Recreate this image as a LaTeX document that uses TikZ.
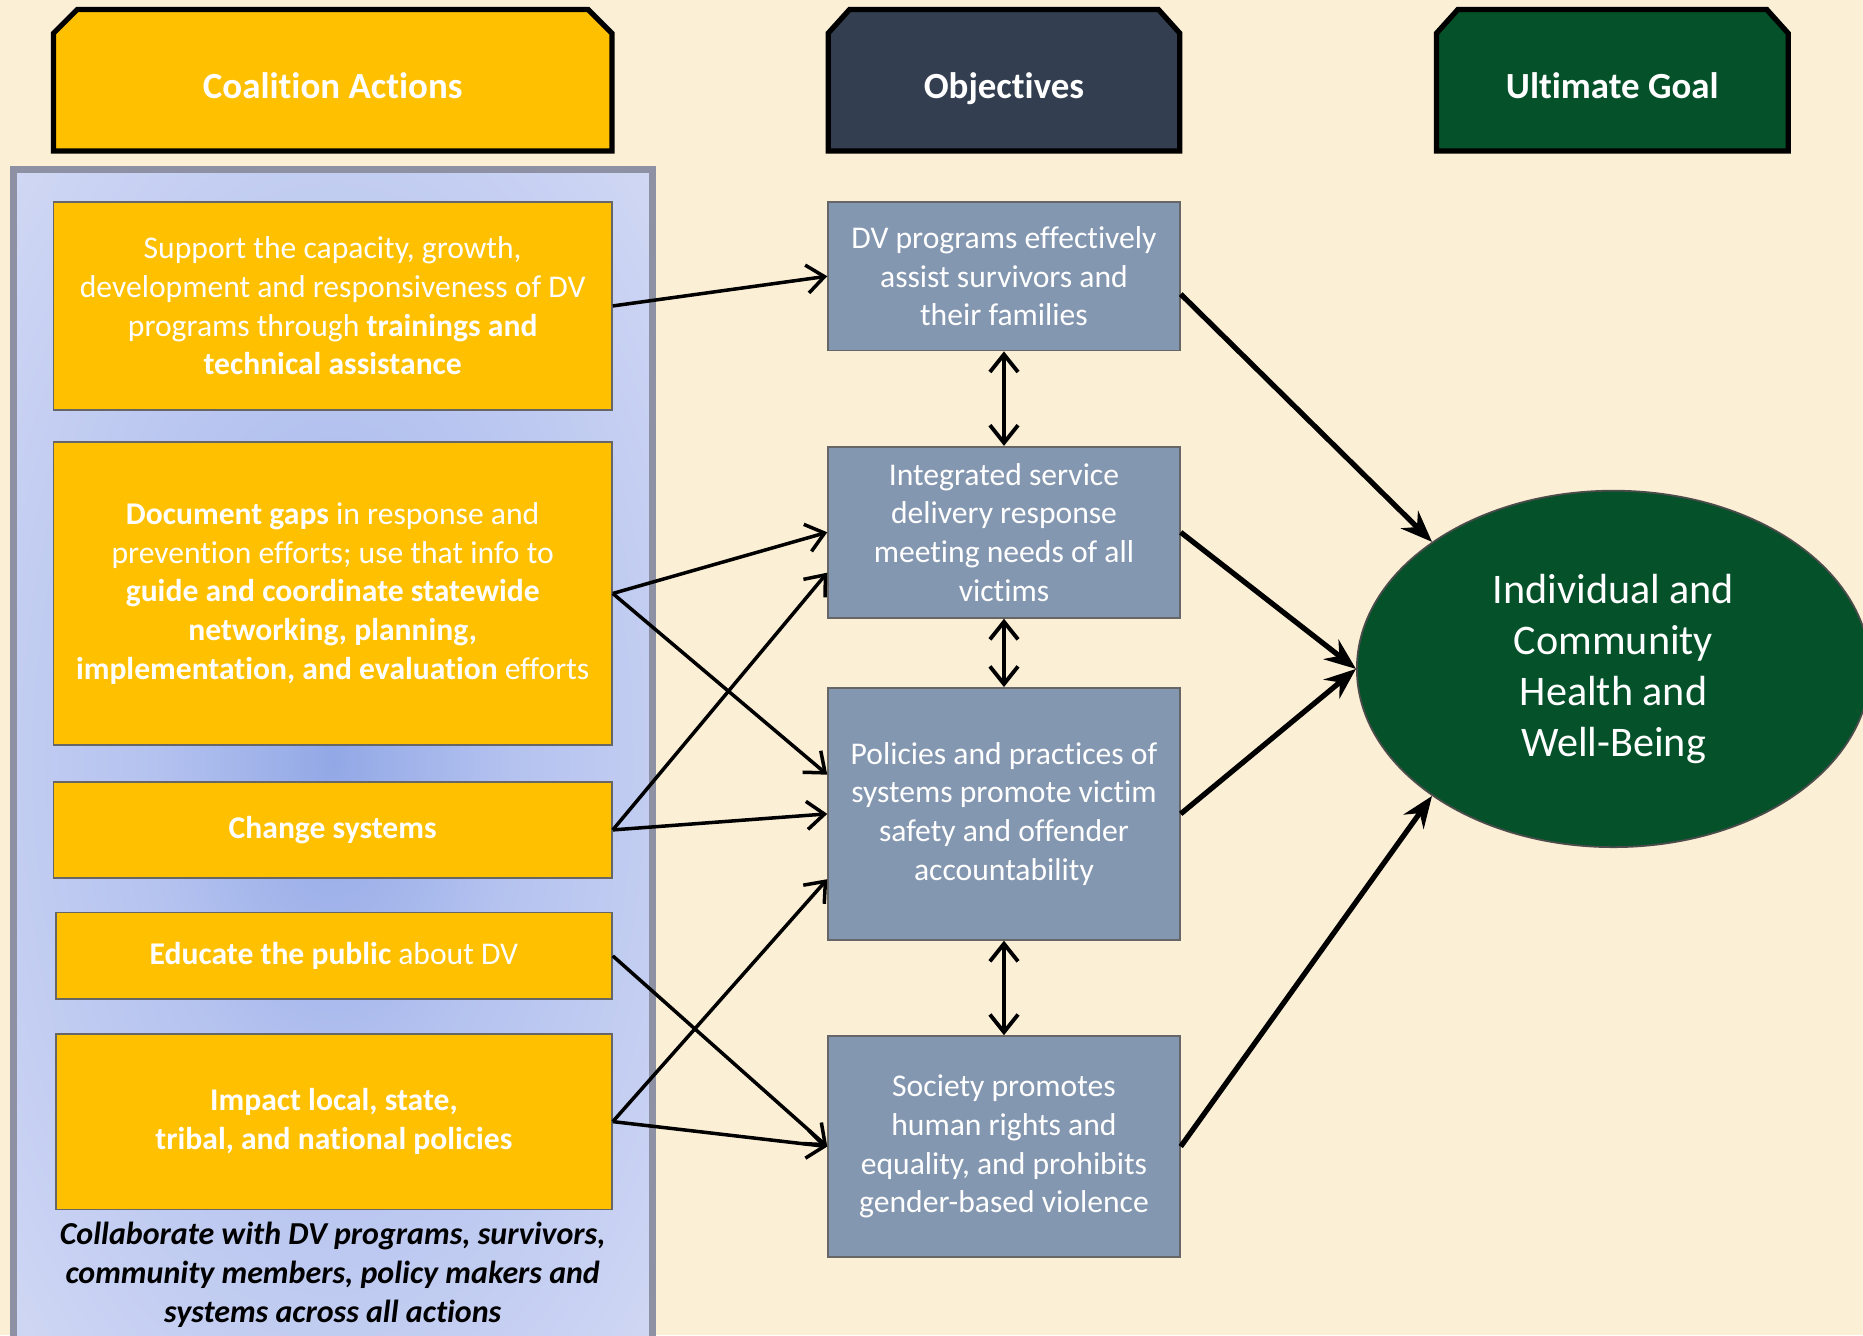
\documentclass[tikz,border=0pt]{standalone}
\usepackage{fontspec}
\setmainfont{Carlito}[Ligatures=NoCommon]
\usetikzlibrary{arrows.meta,calc,shapes.geometric}
\definecolor{bgcream}{HTML}{FBF0D6}
\definecolor{actyellow}{HTML}{FFC000}
\definecolor{objslate}{HTML}{333F50}
\definecolor{goalgreen}{HTML}{04512A}
\definecolor{objblue}{HTML}{8497B0}
\definecolor{panelout}{HTML}{D6DCF5}
\definecolor{panelmid}{HTML}{B4C2EF}
\definecolor{panelin}{HTML}{92A8E6}
\definecolor{panelrim}{HTML}{8E91A3}
\pgfdeclareradialshading{panelglow}{\pgfpoint{0bp}{0bp}}{%
  color(0bp)=(panelin); color(14bp)=(panelmid); color(40bp)=(panelout); color(70bp)=(panelout)}
\newcommand{\px}{0.01188cm}
\tikzset{
  headframe/.style={draw=black, line width=1.5pt, line join=miter},
  headtext/.style={anchor=base, text=white, font=\fontsize{10.5}{13}\selectfont\bfseries},
  actbox/.style={draw=black!60, line width=0.5pt, fill=actyellow, text=white,
    align=center, inner sep=0pt, font=\fontsize{9}{11}\selectfont},
  objbox/.style={draw=black!60, line width=0.5pt, fill=objblue, text=white,
    align=center, inner sep=0pt, font=\fontsize{9}{11}\selectfont},
  goalnode/.style={ellipse, draw=black!70, line width=0.5pt, fill=goalgreen,
    text=white, align=center, inner sep=0pt, font=\fontsize{12}{14.5}\selectfont},
  foottext/.style={align=center, font=\fontsize{9.1}{11}\selectfont\bfseries\itshape},
  actarrow/.style={line width=1pt, -{Straight Barb[length=5pt,width=8pt]}},
  linkarrow/.style={line width=1.1pt, {Straight Barb[length=5pt,width=8pt]}-{Straight Barb[length=5pt,width=8pt]}},
  goalarrow/.style={line width=1.5pt, -{Stealth[length=9pt,width=7pt,inset=3pt]}}
}
\begin{document}
\begin{tikzpicture}[x=0.01188cm, y=-0.01188cm]
  \useasboundingbox (0,0) rectangle (1568,1124);
  \fill[bgcream] (0,0) rectangle (1568,1124);

  % panel behind the actions
  \shade[shading=panelglow] (11,143) rectangle (549,1140);
  \draw[panelrim, line width=2pt] (11,1140) -- (11,143) -- (549,143) -- (549,1140);

  % column headers
  \filldraw[headframe, fill=actyellow] (45,127) -- (45,28) -- (65,8) -- (495,8) -- (515,28) -- (515,127) -- cycle;
  \filldraw[headframe, fill=objslate] (697,127) -- (697,28) -- (715,8) -- (975,8) -- (993,28) -- (993,127) -- cycle;
  \filldraw[headframe, fill=goalgreen] (1209,127) -- (1209,28) -- (1227,8) -- (1487,8) -- (1505,28) -- (1505,127) -- cycle;
  \node[headtext] (hact) at (280,83) {Coalition Actions};
  \node[headtext] (hobj) at (845,83) {Objectives};
  \node[headtext] (hgoal) at (1357,83) {Ultimate Goal};

  % coalition actions
  \node[actbox, minimum width=470*\px, minimum height=175*\px] (a1) at (280,257.5)
    {Support the capacity, growth,\\development and responsiveness of DV\\programs through \textbf{trainings and}\\\textbf{technical assistance}};
  \node[actbox, minimum width=470*\px, minimum height=255*\px] (a2) at (280,499.5)
    {\textbf{Document gaps} in response and\\prevention efforts; use that info to\\\textbf{guide and coordinate statewide}\\\textbf{networking, planning,}\\\textbf{implementation, and evaluation} efforts};
  \node[actbox, minimum width=470*\px, minimum height=81*\px] (a3) at (280,698.5)
    {\textbf{Change systems}};
  \node[actbox, minimum width=468*\px, minimum height=73*\px] (a4) at (281,804.5)
    {\textbf{Educate the public} about DV};
  \node[actbox, minimum width=468*\px, minimum height=148*\px] (a5) at (281,944)
    {\textbf{Impact local, state,}\\\textbf{tribal, and national policies}};
  \node[foottext] (collab) at (280,1073)
    {Collaborate with DV programs, survivors,\\community members, policy makers and\\systems across all actions};

  % objectives
  \node[objbox, minimum width=296*\px, minimum height=125*\px] (o1) at (845,232.5)
    {DV programs effectively\\assist survivors and\\their families};
  \node[objbox, minimum width=296*\px, minimum height=144*\px] (o2) at (845,448)
    {Integrated service\\delivery response\\meeting needs of all\\victims};
  \node[objbox, minimum width=296*\px, minimum height=212*\px] (o3) at (845,685)
    {Policies and practices of\\systems promote victim\\safety and offender\\accountability};
  \node[objbox, minimum width=296*\px, minimum height=186*\px] (o4) at (845,965)
    {Society promotes\\human rights and\\equality, and prohibits\\gender-based violence};

  % ultimate goal
  \node[goalnode, minimum width=432*\px, minimum height=300*\px] (goal) at (1358,563)
    {Individual and\\Community\\Health and\\Well-Being};

  % actions to objectives
  \draw[actarrow] (a1.east) -- (o1.west);
  \draw[actarrow] (a2.east) -- (o2.west);
  \draw[actarrow] (a2.east) -- ($(o3.west)+(0,-33)$);
  \draw[actarrow] (a3.east) -- ($(o2.west)+(0,34)$);
  \draw[actarrow] (a3.east) -- (o3.west);
  \draw[actarrow] (a4.east) -- (o4.west);
  \draw[actarrow] (a5.east) -- ($(o3.west)+(0,55)$);
  \draw[actarrow] (a5.east) -- (o4.west);

  % between objectives
  \draw[linkarrow] (o1.south) -- (o2.north);
  \draw[linkarrow] (o2.south) -- (o3.north);
  \draw[linkarrow] (o3.south) -- (o4.north);

  % objectives to goal
  \draw[goalarrow] ($(o1.east)+(0,15)$) -- (goal.145);
  \draw[goalarrow] (o2.east) -- (goal.180);
  \draw[goalarrow] (o3.east) -- (goal.180);
  \draw[goalarrow] (o4.east) -- (goal.215);
\end{tikzpicture}
\end{document}
